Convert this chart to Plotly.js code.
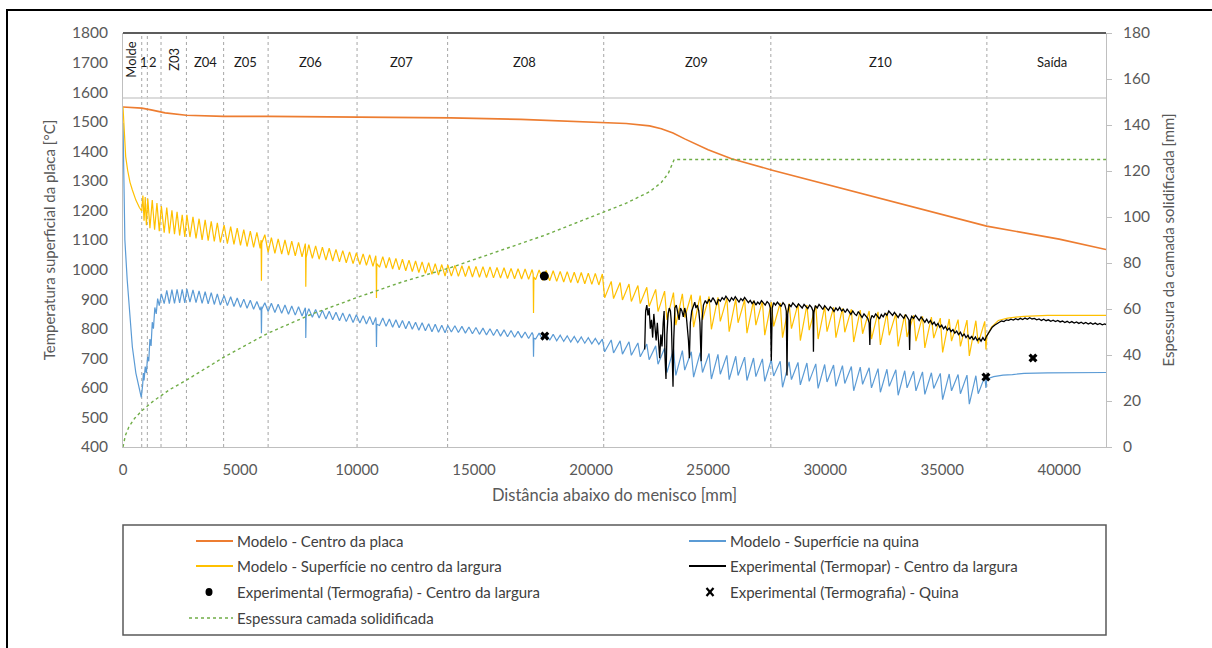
<!DOCTYPE html>
<html>
<head>
<meta charset="utf-8">
<script src="https://cdn.plot.ly/plotly-3.0.1.min.js"></script>
<style>html,body{margin:0;padding:0;background:#fff;}#chart{width:1212px;height:648px;}</style>
</head>
<body>
<div id="chart"></div>
<script>
// ---------------- DATA ----------------
const xTicks = [0, 5000, 10000, 15000, 20000, 25000, 30000, 35000, 40000];
const zoneBounds = [800, 1040, 1625, 2710, 4300, 6200, 10000, 13870, 20540, 27680, 36910];
const zoneNames = ["Molde", "1", "2", "Z03", "Z04", "Z05", "Z06", "Z07", "Z08", "Z09", "Z10", "Saída"];
const zoneLabelX = [330, 890, 1270, 2170, 3540, 5250, 8000, 11880, 17140, 24490, 32350, 39690];
const zoneLabelRot = [true, false, false, true, false, false, false, false, false, false, false, false];

const seriesNames = [
  "Modelo - Centro da placa",
  "Modelo - Superfície na quina",
  "Modelo - Superfície no centro da largura",
  "Experimental (Termopar) - Centro da largura",
  "Experimental (Termografia) - Centro da largura",
  "Experimental (Termografia) - Quina",
  "Espessura camada solidificada"
];

// Modelo - Centro da placa [x mm, T °C]
const centroPlaca = [[0,1550],[500,1549],[800,1546],[1200,1540],[1800,1530],[2700,1522],[3500,1519],[4300,1518],[6200,1518],[10000,1516],[14000,1513],[17000,1508],[20000,1500],[21500,1494],[22500,1486],[23000,1476],[23500,1462],[24000,1442],[25000,1405],[26000,1375],[27700,1337],[30000,1290],[33000,1228],[36900,1147],[40000,1103],[42000,1068]];

// Modelo - Superfície na quina
const quina = [[0,1496],[15,1400],[40,1180],[80,1100],[180,965],[300,840],[400,738],[550,650],[700,590],[780,568],[840,610],[870,650],[900,625],[950,672],[1000,650],[1050,705],[1100,690],[1150,765],[1200,742],[1250,822],[1300,800],[1360,872],[1420,850],[1480,902],[1550,878],
[1640,918],[1760,885],[1870,930],[1980,885],[2090,932],[2200,886],[2310,933],[2420,887],[2530,933],[2640,887],
[2730,935],[2860,890],[2990,931],[3120,888],[3250,928],[3380,886],[3510,925],[3640,884],[3770,922],[3900,882],[4030,918],[4160,880],
[4320,912],[4460,878],[4600,908],[4740,875],[4880,904],[5020,872],[5160,900],[5300,869],[5440,896],[5580,866],[5720,892],[5860,863],[5900,875],[5915,785],[5930,866],[6060,888],
[6200,858],[6340,886],[6490,855],[6630,883],[6780,852],[6920,880],[7070,849],[7210,877],[7360,846],[7500,874],[7650,843],[7790,871],[7800,860],[7810,769],[7825,842],[7940,868],[8090,839],[8230,865],[8380,836],[8520,862],[8670,833],[8810,859],[8960,830],[9100,856],[9250,827],[9390,853],[9540,824],[9680,850],[9830,821],[9970,847],
[10120,819],[10260,844],[10400,816],[10540,841],[10680,813],[10800,838],[10815,825],[10830,738],[10845,815],[10960,811],[11100,836],[11240,808],[11380,833],[11520,805],[11660,830],[11800,803],[11940,828],[12080,800],[12220,825],[12360,798],[12500,822],[12640,795],[12780,820],[12920,793],[13060,817],[13200,790],[13340,815],[13480,788],[13620,812],[13760,786],[13880,811],
[14030,789],[14180,810],[14330,787],[14480,808],[14630,785],[14780,806],[14930,783],[15080,804],[15230,781],[15380,802],[15530,779],[15680,800],[15830,777],[15980,798],[16130,775],[16280,796],[16430,773],[16580,794],[16730,771],[16880,791],[17030,769],[17180,789],[17330,767],[17480,787],[17525,778],[17540,705],[17555,768],[17630,765],[17780,785],[17930,763],[18080,783],[18230,761],[18380,781],[18530,759],[18680,778],[18830,757],[18980,776],[19130,755],[19280,774],[19430,753],[19580,772],[19730,751],[19880,770],[20030,749],[20180,767],[20330,747],[20480,765],
[20580,722],[20860,762],[20960,718],[21240,759],[21340,714],[21620,756],[21720,710],[22000,752],[22100,705],[22380,748],[22480,695],[22760,742],[22860,680],[23140,735],[23240,652],[23520,730],[23620,642],[23900,726],[24000,660],[24280,722],[24380,636],[24660,719],[24760,652],[25040,716],[25140,630],[25420,713],[25520,646],[25800,710],[25900,628],[26180,707],[26280,642],[26560,704],[26660,625],[26940,701],[27040,638],[27320,698],[27420,622],[27700,695],[27800,640],
[28080,690],[28180,602],[28460,688],[28560,628],[28840,686],[28940,610],[29220,684],[29320,622],[29600,681],[29700,598],[29980,679],[30080,620],[30360,677],[30460,605],[30740,675],[30840,615],[31120,672],[31220,590],[31500,670],[31600,612],[31880,668],[31980,600],[32260,665],[32360,585],[32640,663],[32740,605],[33020,661],[33120,575],[33400,658],[33500,600],[33780,656],[33880,590],[34160,654],[34260,578],[34540,651],[34640,598],[34920,649],[35020,560],[35300,647],[35400,590],[35680,645],[35780,580],[36060,643],[36160,545],[36440,641],[36540,580],[36820,638],[36870,600],
[36910,630],[37200,638],[37600,643],[38000,645],[38500,649],[39500,651],[42000,652]];

// Modelo - Superfície no centro da largura
const centroLargura = [[0,1550],[20,1510],[60,1440],[115,1382],[200,1335],[300,1295],[400,1269],[550,1235],[700,1210],[800,1198],
[850,1250],[900,1165],[950,1245],[1000,1150],
[1060,1240],[1150,1140],[1250,1235],[1350,1135],[1450,1225],[1550,1130],
[1640,1215],[1760,1125],[1870,1210],[1980,1122],[2090,1200],[2200,1120],[2310,1195],[2420,1115],[2530,1185],[2640,1110],
[2730,1185],[2860,1110],[2990,1178],[3120,1105],[3250,1172],[3380,1100],[3510,1168],[3640,1098],[3770,1163],[3900,1095],[4030,1158],[4160,1092],
[4320,1150],[4460,1088],[4600,1145],[4740,1085],[4880,1140],[5020,1082],[5160,1135],[5300,1078],[5440,1130],[5580,1075],[5720,1126],[5860,1072],[5900,1100],[5915,962],[5930,1090],[6060,1118],
[6200,1058],[6340,1108],[6490,1055],[6630,1104],[6780,1052],[6920,1100],[7070,1049],[7210,1096],[7360,1046],[7500,1092],[7650,1043],[7790,1088],[7800,1070],[7810,942],[7825,1040],[7940,1084],[8090,1038],[8230,1080],[8380,1035],[8520,1076],[8670,1032],[8810,1072],[8960,1029],[9100,1068],[9250,1026],[9390,1064],[9540,1023],[9680,1060],[9830,1020],[9970,1056],
[10120,1017],[10260,1053],[10400,1014],[10540,1050],[10680,1011],[10800,1047],[10815,1030],[10830,904],[10845,1020],[10960,1008],[11100,1044],[11240,1005],[11380,1041],[11520,1002],[11660,1038],[11800,999],[11940,1035],[12080,996],[12220,1032],[12360,993],[12500,1029],[12640,990],[12780,1026],[12920,987],[13060,1023],[13200,984],[13340,1020],[13480,981],[13620,1017],[13760,978],[13880,1016],
[14030,978],[14180,1014],[14330,977],[14480,1013],[14630,976],[14780,1012],[14930,975],[15080,1011],[15230,974],[15380,1010],[15530,973],[15680,1009],[15830,972],[15980,1007],[16130,971],[16280,1006],[16430,970],[16580,1004],[16730,969],[16880,1003],[17030,968],[17180,1002],[17330,967],[17480,1000],[17525,985],[17540,853],[17555,975],[17630,966],[17780,999],[17930,964],[18080,997],[18230,962],[18380,996],[18530,960],[18680,994],[18830,958],[18980,993],[19130,956],[19280,991],[19430,954],[19580,990],[19730,952],[19880,988],[20030,950],[20180,987],[20330,948],[20480,985],
[20580,905],[20860,960],[20960,902],[21240,956],[21340,897],[21620,951],[21720,892],[22000,946],[22100,885],[22380,940],[22480,875],[22760,933],[22860,858],[23140,927],[23240,830],[23520,922],[23620,812],[23900,918],[24000,838],[24280,915],[24380,805],[24660,912],[24760,830],[25040,909],[25140,798],[25420,906],[25520,825],[25800,903],[25900,790],[26180,900],[26280,820],[26560,898],[26660,785],[26940,895],[27040,812],[27320,893],[27420,778],[27700,890],[27800,808],
[28080,887],[28180,770],[28460,885],[28560,800],[28840,883],[28940,760],[29220,880],[29320,795],[29600,878],[29700,765],[29980,875],[30080,790],[30360,872],[30460,770],[30740,869],[30840,788],[31120,866],[31220,755],[31500,863],[31600,783],[31880,860],[31980,765],[32260,857],[32360,745],[32640,854],[32740,778],[33020,851],[33120,740],[33400,848],[33500,772],[33780,845],[33880,758],[34160,842],[34260,735],[34540,839],[34640,768],[34920,836],[35020,720],[35300,833],[35400,758],[35680,831],[35780,740],[36060,829],[36160,708],[36440,827],[36540,750],[36820,825],[36870,730],
[36910,775],[37100,805],[37400,828],[37800,836],[38500,842],[39500,845],[42000,845]];

// Experimental (Termopar) - Centro da largura
const termopar = [[22290,730],[22330,860],[22380,880],[22430,845],[22480,870],[22530,800],[22580,830],[22630,770],[22680,850],[22730,790],[22780,760],[22830,820],[22880,745],[22930,700],[22980,780],[23030,740],[23080,820],[23120,860],[23160,700],[23200,630],[23240,780],[23290,850],[23340,870],[23390,860],[23430,820],[23470,700],[23500,604],[23530,760],[23580,870],[23640,880],[23700,850],[23760,830],[23820,870],[23880,860],[23940,840],[24000,870],[24060,850],[24120,800],[24160,760],[24200,700],[24240,820],[24300,860],[24370,880],[24430,890],[24480,870],[24540,880],[24600,860],[24650,820],[24700,690],[24740,830],[24800,880],[24880,895],[24960,885],[25040,900],[25120,890],[25200,905],[25280,895],[25360,880],[25440,900],[25520,893],[25600,905],[25680,898],[25760,910],[25840,900],[25920,892],[26000,905],[26080,897],[26160,908],[26240,900],[26320,890],[26400,902],[26480,895],[26560,906],[26640,898],[26720,888],[26800,896],[26880,885],[26960,893],[27040,880],[27120,890],[27200,883],[27280,895],[27360,886],[27440,880],[27520,892],[27600,885],[27660,870],[27700,692],[27740,870],[27800,888],[27880,880],[27960,890],[28040,882],[28120,876],[28200,888],[28280,880],[28340,860],[28370,642],[28400,850],[28460,882],[28540,875],[28620,887],[28700,880],[28780,872],[28860,884],[28940,878],[29020,870],[29100,882],[29180,875],[29260,868],[29340,880],[29420,872],[29480,860],[29500,722],[29520,855],[29580,878],[29660,870],[29740,882],[29820,875],[29900,865],[29980,878],[30060,870],[30140,862],[30220,874],[30300,868],[30380,858],[30460,870],[30540,862],[30620,872],[30700,860],[30780,866],[30860,855],[30940,866],[31020,858],[31100,848],[31180,860],[31260,850],[31340,845],[31420,858],[31500,848],[31580,838],[31660,850],[31740,843],[31820,835],[31880,820],[31910,745],[31940,830],[32000,845],[32080,838],[32160,850],[32240,842],[32320,833],[32400,848],[32480,840],[32560,852],[32640,845],[32720,860],[32800,852],[32880,845],[32960,855],[33040,848],[33120,838],[33200,850],[33280,842],[33360,835],[33440,848],[33520,840],[33580,830],[33610,728],[33640,828],[33700,842],[33780,835],[33860,845],[33940,838],[34020,828],[34100,840],[34180,832],[34260,822],[34340,832],[34420,820],[34500,828],[34580,815],[34660,822],[34740,810],[34820,818],[34900,805],[34980,812],[35060,800],[35140,808],[35220,795],[35300,802],[35380,790],[35460,797],[35540,785],[35620,792],[35700,780],[35780,788],[35860,775],[35940,782],[36020,770],[36100,778],[36180,765],[36260,775],[36340,762],[36420,772],[36500,760],[36580,768],[36660,758],[36740,770],[36820,760],[36900,775],[36980,785],[37060,795],[37140,805],[37240,812],[37340,818],[37440,822],[37540,826],[37640,824],[37740,830],[37840,828],[37940,832],[38040,829],[38140,834],[38240,830],[38340,835],[38440,831],[38540,836],[38640,832],[38740,837],[38840,833],[38940,835],[39040,830],[39140,833],[39240,828],[39340,832],[39440,827],[39540,830],[39640,825],[39740,829],[39840,824],[39940,828],[40040,823],[40140,826],[40240,821],[40340,825],[40440,820],[40540,824],[40640,819],[40740,823],[40840,818],[40940,822],[41040,817],[41140,821],[41240,816],[41340,820],[41440,815],[41540,819],[41640,814],[41740,818],[41840,813],[41940,816],[42000,814]];

// Experimental (Termografia)
const termoCentroX = [18000];
const termoCentroY = [978];
const termoQuinaX = [18020, 36870, 38880];
const termoQuinaY = [775, 637, 701];

// Espessura camada solidificada [x mm, mm]
const espessura = [[0,0],[100,5],[250,8.7],[500,12.5],[830,16],[1300,20],[2000,25],[2700,29],[3500,34],[4300,39],[5200,44],[6200,49.5],[8000,57.5],[10000,65],[12000,72],[14000,78],[16000,85],[18000,92],[20000,100],[21500,106],[22500,111],[23000,115],[23300,119],[23550,125],[24000,125],[42000,125]];

// ---------------- CHART ----------------
const colors = ["#ED7D31", "#5B9BD5", "#FFC000", "#000000", "#000000", "#000000", "#70AD47"];
const FONT = "Lato, 'Open Sans', sans-serif";
const col = (a, i) => a.map(p => p[i]);

const traces = [
  {x: col(centroPlaca,0), y: col(centroPlaca,1), mode: "lines", name: seriesNames[0], line: {color: colors[0], width: 1.6}},
  {x: col(quina,0), y: col(quina,1), mode: "lines", name: seriesNames[1], line: {color: colors[1], width: 1.2}},
  {x: col(centroLargura,0), y: col(centroLargura,1), mode: "lines", name: seriesNames[2], line: {color: colors[2], width: 1.2}},
  {x: col(termopar,0), y: col(termopar,1), mode: "lines", name: seriesNames[3], line: {color: colors[3], width: 1.3}},
  {x: termoCentroX, y: termoCentroY, mode: "markers", name: seriesNames[4], marker: {color: colors[4], size: 9, symbol: "circle"}},
  {x: termoQuinaX, y: termoQuinaY, mode: "markers", name: seriesNames[5], marker: {color: colors[5], size: 8, symbol: "x"}},
  {x: col(espessura,0), y: col(espessura,1), mode: "lines", name: seriesNames[6], yaxis: "y2", line: {color: colors[6], width: 1.4, dash: "dot"}}
];

// pixel -> paper helpers (plot area: x 123..1106, y 33..447)
const PX0 = 123, PX1 = 1106, PY0 = 33, PY1 = 447;
const px = v => (v - PX0) / (PX1 - PX0);
const py = v => (PY1 - v) / (PY1 - PY0);

const shapes = [];
zoneBounds.forEach(b => shapes.push({type: "line", xref: "x", yref: "paper", x0: b, x1: b, y0: 0, y1: 1, line: {color: "#A6A6A6", width: 1, dash: "3px,3px"}, layer: "below"}));
shapes.push({type: "line", xref: "paper", yref: "y", x0: 0, x1: 1, y0: 1580, y1: 1580, line: {color: "#D0D0D0", width: 1.5}, layer: "below"});
shapes.push({type: "line", xref: "paper", yref: "paper", x0: 0, x1: 1, y0: 1, y1: 1, line: {color: "#262626", width: 1.6}});
// outer frame
shapes.push({type: "rect", xref: "paper", yref: "paper", x0: px(7), x1: px(1220), y0: py(660), y1: py(10), line: {color: "#000", width: 2}});
// legend box
shapes.push({type: "rect", xref: "paper", yref: "paper", x0: px(123), x1: px(1106), y0: py(635), y1: py(525), line: {color: "#595959", width: 1.5}});

// legend entries (manual, 2 columns)
const legendSlots = [
  {c: 0, r: 0}, {c: 1, r: 0}, {c: 0, r: 1}, {c: 1, r: 1}, {c: 0, r: 2}, {c: 1, r: 2}, {c: 0, r: 3}
];
const rowY = [541, 566, 592, 618];
const colLine = [[196, 233], [689, 726]];
const colText = [235, 728];
const annotations = [];
seriesNames.forEach((nm, i) => {
  const s = legendSlots[i];
  const yy = py(rowY[s.r]);
  if (i === 4) {
    const cx = 209;
    shapes.push({type: "circle", xref: "paper", yref: "paper", x0: px(cx - 3.5), x1: px(cx + 3.5), y0: py(rowY[s.r] + 4), y1: py(rowY[s.r] - 4), fillcolor: "#000", line: {color: "#000", width: 0}});
  } else if (i === 5) {
    const cx = 710;
    shapes.push({type: "line", xref: "paper", yref: "paper", x0: px(cx - 3.5), x1: px(cx + 3.5), y0: py(rowY[s.r] - 4), y1: py(rowY[s.r] + 4), line: {color: "#000", width: 2.2}});
    shapes.push({type: "line", xref: "paper", yref: "paper", x0: px(cx - 3.5), x1: px(cx + 3.5), y0: py(rowY[s.r] + 4), y1: py(rowY[s.r] - 4), line: {color: "#000", width: 2.2}});
  } else {
    const x0 = i === 6 ? 189 : colLine[s.c][0];
    shapes.push({type: "line", xref: "paper", yref: "paper", x0: px(x0), x1: px(colLine[s.c][1]), y0: yy, y1: yy,
      line: {color: colors[i], width: i === 6 ? 1.4 : 1.8, dash: i === 6 ? "dot" : "solid"}});
  }
  annotations.push({xref: "paper", yref: "paper", x: px(colText[s.c]), y: yy, xanchor: "left", yanchor: "middle", showarrow: false,
    text: nm, font: {family: FONT, size: 15, color: "#404040"}});
});

// zone labels
zoneNames.forEach((z, i) => {
  annotations.push({xref: "x", yref: "paper", x: zoneLabelX[i], y: py(zoneLabelRot[i] ? 59 : 62), xanchor: "center", yanchor: "middle",
    showarrow: false, text: z, textangle: zoneLabelRot[i] ? -90 : 0, font: {family: FONT, size: 13, color: "#1a1a1a"}});
});

const layout = {
  width: 1212, height: 648,
  margin: {l: PX0, r: 1212 - PX1, t: PY0, b: 648 - PY1, pad: 0},
  paper_bgcolor: "#fff", plot_bgcolor: "#fff",
  showlegend: false,
  font: {family: FONT, color: "#595959", size: 15},
  xaxis: {
    range: [0, 42000], tickvals: xTicks, ticktext: xTicks.map(String), showgrid: false, zeroline: false,
    showline: true, linecolor: "#BFBFBF", linewidth: 1, ticks: "outside", ticklen: 9, tickcolor: "rgba(0,0,0,0)",
    tickfont: {family: FONT, size: 15, color: "#595959"},
    title: {text: "Distância abaixo do menisco [mm]", font: {family: FONT, size: 16.5, color: "#595959"}, standoff: 12}
  },
  yaxis: {
    range: [400, 1800], dtick: 100, showgrid: false, zeroline: false,
    showline: true, linecolor: "#BFBFBF", linewidth: 1, ticks: "outside", ticklen: 11, tickcolor: "rgba(0,0,0,0)",
    tickfont: {family: FONT, size: 15.5, color: "#595959"},
    title: {text: "Temperatura superficial da placa [°C]", font: {family: FONT, size: 15, color: "#595959"}, standoff: 12}
  },
  yaxis2: {
    overlaying: "y", side: "right", range: [0, 180], dtick: 20, showgrid: false, zeroline: false,
    showline: true, linecolor: "#BFBFBF", linewidth: 1, ticks: "outside", ticklen: 5, tickcolor: "#BFBFBF",
    ticklabelstandoff: 8,
    tickfont: {family: FONT, size: 15.5, color: "#595959"},
    title: {text: "Espessura da camada solidificada [mm]", font: {family: FONT, size: 15, color: "#595959"}, standoff: 14}
  },
  shapes: shapes,
  annotations: annotations
};

Plotly.newPlot("chart", traces, layout, {displayModeBar: false, staticPlot: true});
</script>
</body>
</html>
